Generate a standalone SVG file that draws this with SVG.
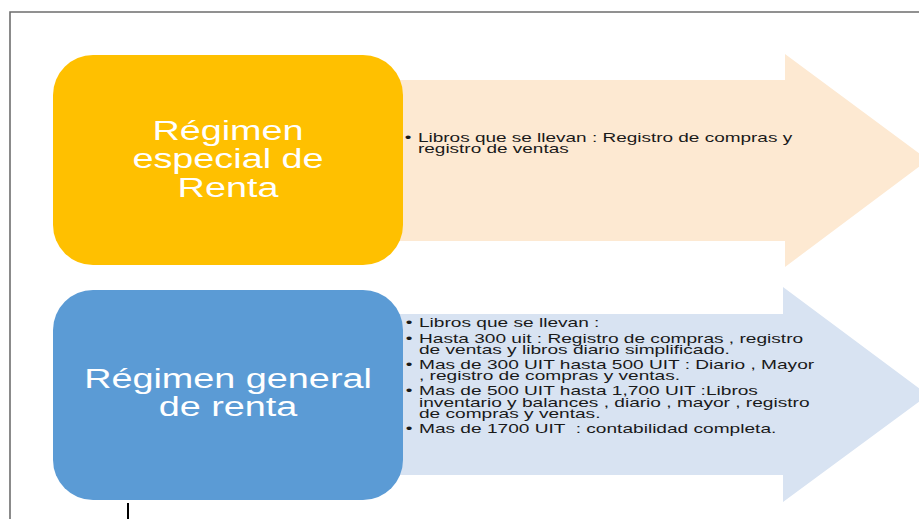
<svg xmlns="http://www.w3.org/2000/svg" width="919" height="519" viewBox="0 0 919 519">
<style>
.title{font-family:"Liberation Sans",Arial,sans-serif;font-size:27px;fill:#ffffff;text-anchor:middle}
.body{font-family:"Liberation Sans",Arial,sans-serif;font-size:13px;fill:#1a1a1a}
.frame{stroke:#6e6e6e;stroke-width:1.6;fill:none}
</style>
<rect width="919" height="519" fill="#ffffff"/>
<path class="frame" d="M10,519 V12 H919"/>
<line x1="128" y1="503" x2="128" y2="519" stroke="#000" stroke-width="2"/>
<g id="connectors">
<polygon id="arrow1" points="380,80 785,80 785,54 928,160 785,267 785,241 380,241" fill="#FDE9D2"/>
<polygon id="arrow2" points="380,314 783,314 783,287 928,395 783,502 783,475 380,475" fill="#D8E3F2"/>
</g>
<g id="node-especial">
<rect x="53" y="55" width="350" height="210" rx="40" fill="#FFC000"/>
<g transform="translate(228,0) scale(1.4,1)">
<text class="title" x="0" y="140">Régimen</text>
<text class="title" x="0" y="168">especial de</text>
<text class="title" x="0" y="197">Renta</text>
</g>
</g>
<g id="node-general">
<rect x="53" y="290" width="350" height="210" rx="40" fill="#5B9BD5"/>
<g transform="translate(228,0) scale(1.4,1)">
<text class="title" x="0" y="388">Régimen general</text>
<text class="title" x="0" y="416">de renta</text>
</g>
</g>
<g id="text-especial" class="body" transform="translate(418,0) scale(1.46,1)">
<text x="-9" y="142">•</text>
<text x="0" y="142">Libros que se llevan : Registro de compras y</text>
<text x="0" y="153">registro de ventas</text>
</g>
<g id="text-general" class="body" transform="translate(419,0) scale(1.47,1)">
<text x="-9" y="327">•</text>
<text x="0" y="327">Libros que se llevan :</text>
<text x="-9" y="343">•</text>
<text x="0" y="343">Hasta 300 uit : Registro de compras , registro</text>
<text x="0" y="354">de ventas y libros diario simplificado.</text>
<text x="-9" y="369">•</text>
<text x="0" y="369">Mas de 300 UIT hasta 500 UIT : Diario , Mayor</text>
<text x="0" y="380">, registro de compras y ventas.</text>
<text x="-9" y="395">•</text>
<text x="0" y="395">Mas de 500 UIT hasta 1,700 UIT :Libros</text>
<text x="0" y="407">inventario y balances , diario , mayor , registro</text>
<text x="0" y="418">de compras y ventas.</text>
<text x="-9" y="433">•</text>
<text x="0" y="433" xml:space="preserve">Mas de 1700 UIT  : contabilidad completa.</text>
</g>
</svg>
